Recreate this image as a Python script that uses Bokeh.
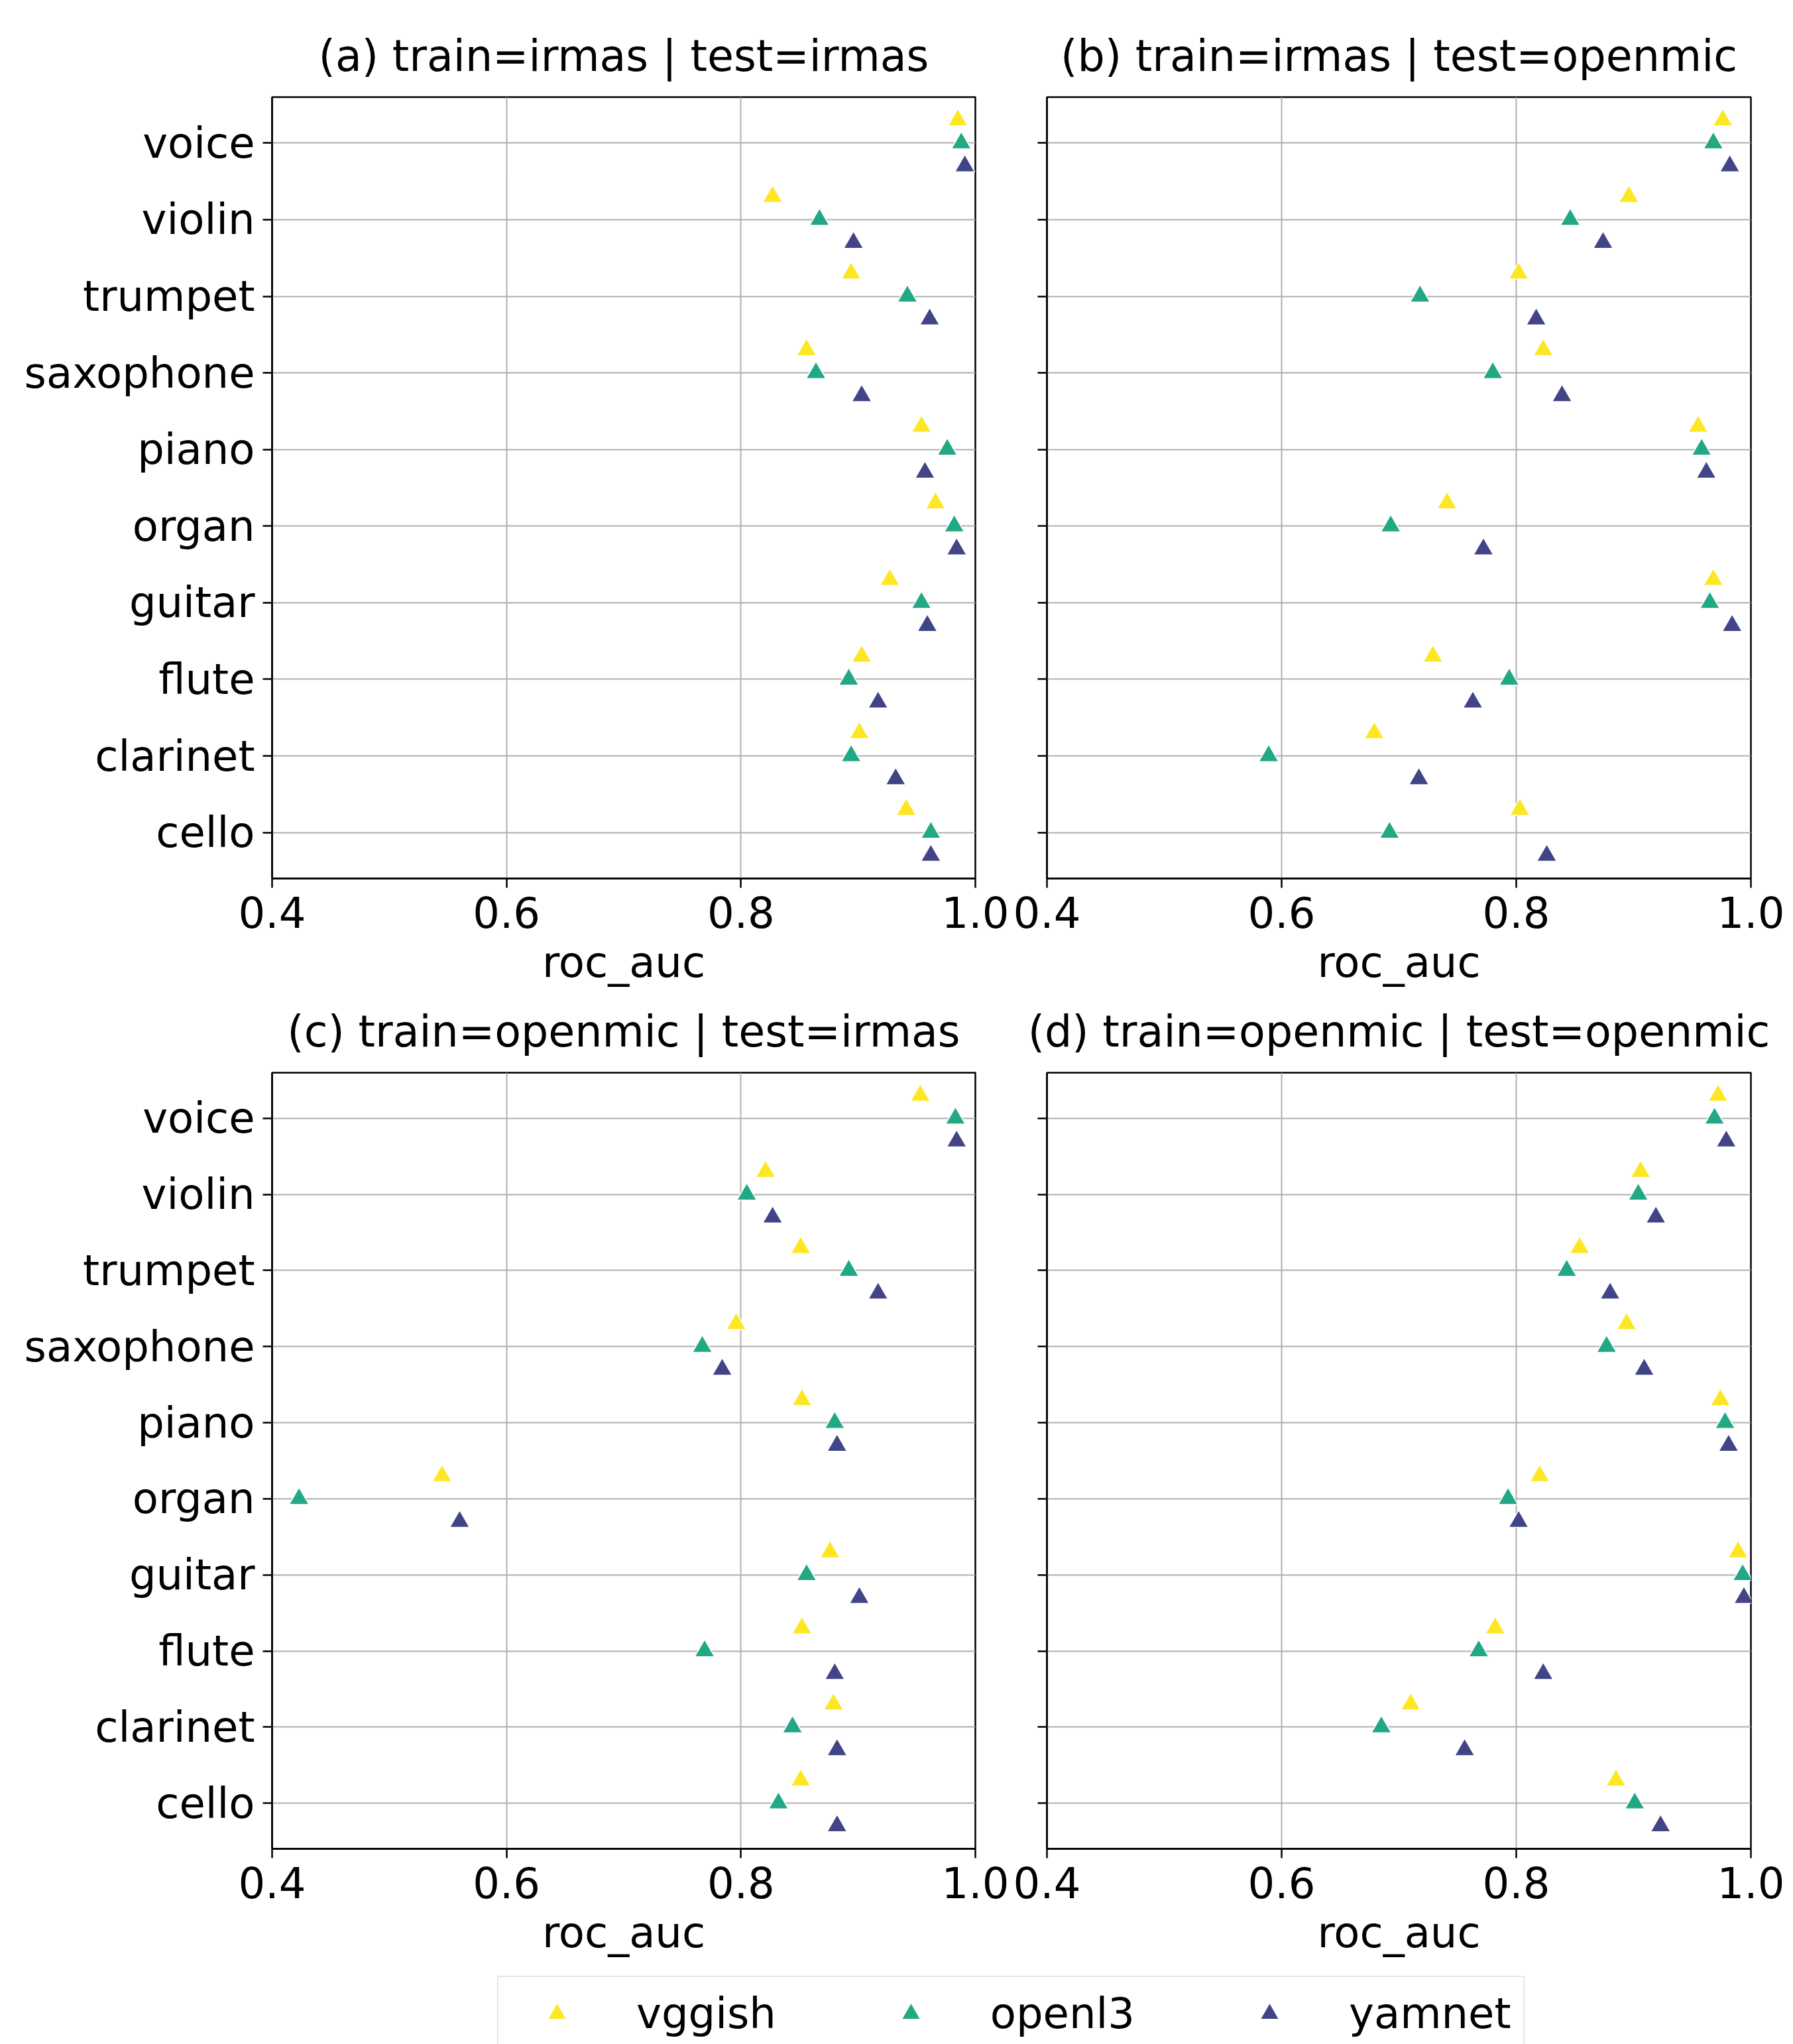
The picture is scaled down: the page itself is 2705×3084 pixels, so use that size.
from bokeh.plotting import figure
from bokeh.models import (Range1d, FixedTicker, Legend, LegendItem, ColumnDataSource,
                          PrintfTickFormatter)
from bokeh.layouts import column, row
from bokeh.transform import dodge
from bokeh.embed import file_html
from bokeh.resources import INLINE

# ---------------- data ----------------
instruments = ["voice", "violin", "trumpet", "saxophone", "piano",
               "organ", "guitar", "flute", "clarinet", "cello"]
models = ["vggish", "openl3", "yamnet"]
colors = ["#fde725", "#22a884", "#414487"]

titles = ["(a) train=irmas | test=irmas",
          "(b) train=irmas | test=openmic",
          "(c) train=openmic | test=irmas",
          "(d) train=openmic | test=openmic"]
x_label = "roc_auc"
x_ticks = [0.4, 0.6, 0.8, 1.0]

vggish_a = [0.985, 0.827, 0.894, 0.856, 0.954, 0.966, 0.927, 0.903, 0.901, 0.941]
openl3_a = [0.988, 0.867, 0.942, 0.864, 0.976, 0.982, 0.954, 0.892, 0.894, 0.962]
yamnet_a = [0.991, 0.896, 0.961, 0.903, 0.957, 0.984, 0.959, 0.917, 0.932, 0.962]

vggish_b = [0.976, 0.896, 0.802, 0.823, 0.955, 0.741, 0.968, 0.729, 0.679, 0.803]
openl3_b = [0.968, 0.846, 0.718, 0.780, 0.958, 0.693, 0.965, 0.794, 0.589, 0.692]
yamnet_b = [0.982, 0.874, 0.817, 0.839, 0.962, 0.772, 0.984, 0.763, 0.717, 0.826]

vggish_c = [0.953, 0.821, 0.851, 0.796, 0.852, 0.545, 0.876, 0.852, 0.879, 0.851]
openl3_c = [0.983, 0.805, 0.892, 0.767, 0.880, 0.423, 0.856, 0.769, 0.844, 0.832]
yamnet_c = [0.984, 0.827, 0.917, 0.784, 0.882, 0.560, 0.901, 0.880, 0.882, 0.882]

vggish_d = [0.972, 0.906, 0.854, 0.894, 0.974, 0.820, 0.989, 0.782, 0.710, 0.885]
openl3_d = [0.969, 0.904, 0.843, 0.877, 0.978, 0.793, 0.993, 0.768, 0.685, 0.901]
yamnet_d = [0.979, 0.919, 0.880, 0.909, 0.981, 0.802, 0.994, 0.823, 0.756, 0.923]

FONT = "DejaVu Sans"
TICK_FS = "64px"
TITLE_FS = "65px"
dodge_offsets = [0.3, 0.0, -0.3]
X0, X1 = 0.4, 1.0
Y0, Y1 = -0.6, 9.6
YPOS = list(range(len(instruments) - 1, -1, -1))


def make_panel(title, series, width, height, bl, br, bt, bb, show_ylabels):
    p = figure(width=width, height=height,
               x_range=Range1d(X0, X1), y_range=Range1d(Y0, Y1),
               toolbar_location=None, output_backend="svg",
               min_border_left=bl, min_border_right=br,
               min_border_top=bt, min_border_bottom=bb, title=title,
               background_fill_color="white", border_fill_color="white")
    p.title.text_font = FONT
    p.title.text_font_size = TITLE_FS
    p.title.text_font_style = "normal"
    p.title.text_color = "black"
    p.title.align = "center"
    p.title.standoff = 50

    p.outline_line_color = "black"
    p.outline_line_width = 2.5
    p.outline_line_alpha = 1.0

    # grids
    p.xgrid.ticker = FixedTicker(ticks=x_ticks)
    p.ygrid.ticker = FixedTicker(ticks=YPOS)
    p.grid.grid_line_color = "#b0b0b0"
    p.grid.grid_line_width = 2

    # x axis
    p.xaxis.ticker = FixedTicker(ticks=x_ticks)
    p.xaxis.formatter = PrintfTickFormatter(format="%.1f")
    p.xaxis.major_label_standoff = 13
    p.xaxis.axis_label = x_label
    p.xaxis.axis_label_text_font = FONT
    p.xaxis.axis_label_text_font_size = TICK_FS
    p.xaxis.axis_label_text_font_style = "normal"
    p.xaxis.axis_label_text_color = "black"
    p.xaxis.axis_label_standoff = 12

    # y axis
    p.yaxis.ticker = FixedTicker(ticks=YPOS)
    if show_ylabels:
        p.yaxis.major_label_overrides = {yy: name for yy, name in zip(YPOS, instruments)}
    else:
        p.yaxis.major_label_overrides = {yy: "" for yy in YPOS}
    p.yaxis.major_label_standoff = 12

    for ax in (p.xaxis[0], p.yaxis[0]):
        ax.major_label_text_font = FONT
        ax.major_label_text_font_size = TICK_FS
        ax.major_label_text_color = "black"
        ax.axis_line_color = "black"
        ax.axis_line_width = 2.5
        ax.major_tick_line_color = "black"
        ax.major_tick_line_width = 2.5
        ax.major_tick_out = 14
        ax.major_tick_in = 0
        ax.minor_tick_line_color = None

    for vals, c, off in zip(series, colors, dodge_offsets):
        src = ColumnDataSource(dict(x=vals, y=YPOS))
        p.scatter(x="x", y=dodge("y", off), source=src, marker="triangle",
                  size=30, fill_color=c, line_color="white", line_width=1.5)
    return p


W_LEFT, W_RIGHT = 1525, 1180
H_TOP, H_BOT = 1491, 1484

pa = make_panel(titles[0], [vggish_a, openl3_a, yamnet_a], W_LEFT, H_TOP, 410, 54, 146, 166, True)
pb = make_panel(titles[1], [vggish_b, openl3_b, yamnet_b], W_RIGHT, H_TOP, 54, 64, 146, 166, False)
pc = make_panel(titles[2], [vggish_c, openl3_c, yamnet_c], W_LEFT, H_BOT, 410, 54, 119, 186, True)
pd = make_panel(titles[3], [vggish_d, openl3_d, yamnet_d], W_RIGHT, H_BOT, 54, 64, 119, 186, False)

# legend strip
H_LEG = 3084 - H_TOP - H_BOT
pl = figure(width=W_LEFT + W_RIGHT, height=H_LEG, toolbar_location=None,
            output_backend="svg", x_range=Range1d(X0, X1), y_range=Range1d(Y0, Y1),
            x_axis_location=None, y_axis_location=None,
            min_border_left=750, min_border_right=0, min_border_top=6,
            min_border_bottom=0, outline_line_color=None,
            border_fill_color="white", background_fill_color="white")
pl.grid.visible = False
items = []
for name, c, vals in zip(models, colors, [vggish_a, openl3_a, yamnet_a]):
    r = pl.scatter(x=vals, y=YPOS, marker="triangle", size=30, fill_color=c,
                   line_color="white", line_width=1.5, visible=False)
    items.append(LegendItem(label=name, renderers=[r]))
leg = Legend(items=items, orientation="horizontal", location="top_left",
             margin=0, padding=18, spacing=133, glyph_width=140, glyph_height=72,
             label_standoff=50, label_text_font=FONT, label_text_font_size=TICK_FS,
             label_text_color="black", border_line_color="#cccccc",
             border_line_width=2.5, background_fill_color="white",
             background_fill_alpha=1.0, inactive_fill_alpha=0.0)
pl.add_layout(leg)

layout = column(row(pa, pb), row(pc, pd), pl)

open("out.html", "w").write(file_html(layout, INLINE))
